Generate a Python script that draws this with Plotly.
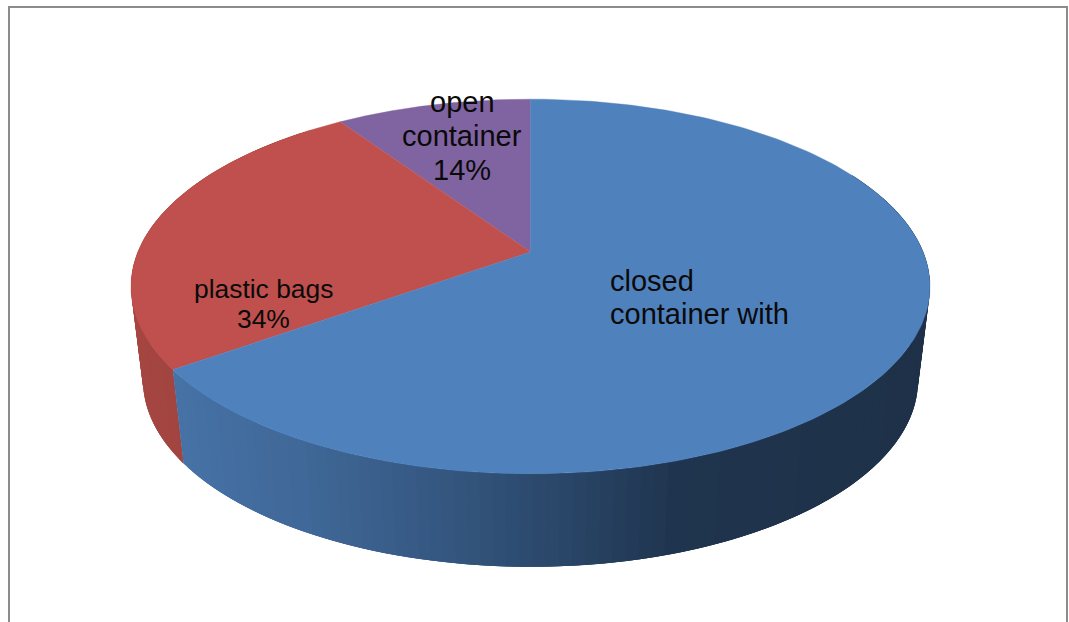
import numpy as np
import plotly.graph_objects as go

# Slice data, listed counter-clockwise from twelve o'clock.
categories = ["open container", "plastic bags", "closed container with"]
shares = [14, 34, 52]
top_colors = ["#8064a2", "#c0504d", "#4f81bd"]

# Geometry of the tilted disc on the 1069x622 canvas.
CX, APEX_Y, CY = 530.5, 252.0, 286.0
BEND, RISE = 0.184, 181.0
HALF_W = 399.5 * np.sqrt(1 - BEND ** 2)
FLOOR_CY, FLOOR_SX, FLOOR_SY = 380.0, 388.0 / 400.0, 186.0 / 187.0
VIEW_A, VIEW_B = np.radians(48.0), np.radians(-5.2)


def view_angle(theta):
    # The oblique camera compresses the back-left of the disc.
    return theta - VIEW_A * np.sin(theta / 2) - VIEW_B * np.sin(theta)


def rim(theta):
    psi = view_angle(theta)
    u, v = -np.sin(psi), np.cos(psi)
    d = 1 + BEND * v
    return CX + HALF_W * u / d, APEX_Y - RISE * v / d


def floor(x, y):
    return CX + (x - CX) * FLOOR_SX, FLOOR_CY + (y - CY) * FLOOR_SY


def mix(stops, x):
    xs = [s[0] for s in stops]
    rgb = [np.interp(x, xs, [s[1][i] for s in stops]) for i in range(3)]
    return "rgb(%d,%d,%d)" % tuple(int(round(c)) for c in rgb)


blue_wall = [(175, (70, 114, 166)), (300, (64, 104, 152)), (450, (52, 86, 127)),
             (560, (42, 70, 104)), (680, (31, 52, 78)), (930, (30, 49, 72))]
red_wall = [(130, (166, 70, 66)), (185, (160, 68, 63))]

fig = go.Figure()
edges = np.radians(np.concatenate([[0], np.cumsum(shares)]) * 3.6)


def add_wall(start, stop, stops):
    # Each band runs on under the next one, so no seams open between the bands.
    steps = np.linspace(start, stop, max(2, int(np.degrees(stop - start) * 0.7)))
    for a, b in zip(steps[:-1], steps[1:]):
        seg = np.linspace(a, min(stop, b + 2 * (b - a)), 6)
        tx, ty = rim(seg)
        bx, by = floor(tx, ty)
        color = mix(stops, rim(np.array([(a + b) / 2]))[0][0])
        fig.add_trace(go.Scatter(
            x=np.concatenate([tx, bx[::-1]]), y=np.concatenate([ty, by[::-1]]),
            mode="lines", fill="toself", fillcolor=color,
            line=dict(color=color, width=0), hoverinfo="skip", showlegend=False))


# Only the front of the disc shows its side wall; the top face hides the rest.
add_wall(edges[1] + 0.15, edges[2], red_wall)
add_wall(edges[2], np.radians(318), blue_wall)

# Top faces of the slices.
for i, name in enumerate(categories):
    t = np.linspace(edges[i], edges[i + 1], 240)
    x, y = rim(t)
    fig.add_trace(go.Scatter(
        x=np.concatenate([[CX], x, [CX]]), y=np.concatenate([[APEX_Y], y, [APEX_Y]]),
        mode="lines", fill="toself", fillcolor=top_colors[i],
        line=dict(color=top_colors[i], width=0.4), name=name,
        hoverinfo="name", showlegend=False))

# Data labels, one annotation per line so the leading stays tight.
label_lines = [
    ("open", 462, 102, 29, "center"),
    ("container", 462, 136, 29, "center"),
    (f"{shares[0]}%", 462, 170, 29, "center"),
    ("plastic bags", 263, 289, 26.4, "center"),
    (f"{shares[1]}%", 263, 319, 26.4, "center"),
    ("closed", 609, 281, 29, "left"),
    ("container with", 609, 314, 29, "left"),
]
for text, x, y, size, anchor in label_lines:
    fig.add_annotation(x=x, y=y, text=text, showarrow=False, xanchor=anchor, yanchor="middle",
                       xref="x", yref="y", borderpad=0,
                       font=dict(family="Liberation Sans, Arial, sans-serif", size=size, color="#0a0a0a"))

fig.update_layout(
    width=1069, height=622, margin=dict(l=0, r=0, t=0, b=0),
    paper_bgcolor="white", plot_bgcolor="white", showlegend=False,
    xaxis=dict(range=[0, 1069], visible=False, fixedrange=True),
    yaxis=dict(range=[622, 0], visible=False, fixedrange=True),
    shapes=[dict(type="rect", xref="x", yref="y", x0=9, y0=7, x1=1067, y1=660,
                 line=dict(color="#8c8c8c", width=2), fillcolor="rgba(0,0,0,0)", layer="below")],
)

fig.write_html("out.html", config=dict(displayModeBar=False))
